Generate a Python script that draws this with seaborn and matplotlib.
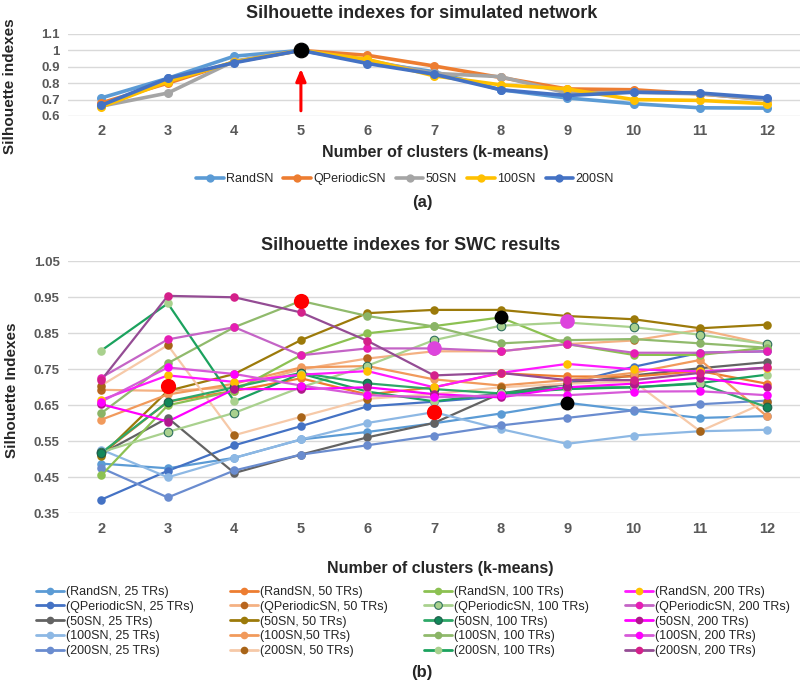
import matplotlib
matplotlib.use('Agg')
import matplotlib.pyplot as plt
from matplotlib import font_manager
from matplotlib.lines import Line2D
import numpy as np
import pandas as pd
import seaborn as sns

sns.set_theme(style='white')
_names = {f.name for f in font_manager.fontManager.ttflist}
NARROW = 'Liberation Sans Narrow' if 'Liberation Sans Narrow' in _names else 'Liberation Sans'
plt.rcParams['font.family'] = ['Liberation Sans', 'DejaVu Sans']

clusters = [2, 3, 4, 5, 6, 7, 8, 9, 10, 11, 12]

# ---------------- (a) simulated network ----------------
sim_names = ['RandSN', 'QPeriodicSN', '50SN', '100SN', '200SN']
sim_randsn = [0.71, 0.83, 0.965, 1.0, 0.93, 0.87, 0.76, 0.71, 0.675, 0.65, 0.648]
sim_qperiodicsn = [0.68, 0.80, 0.93, 1.0, 0.97, 0.905, 0.835, 0.765, 0.76, 0.735, 0.70]
sim_50sn = [0.66, 0.74, 0.935, 1.0, 0.94, 0.86, 0.84, 0.74, 0.745, 0.735, 0.70]
sim_100sn = [0.655, 0.81, 0.93, 1.0, 0.945, 0.845, 0.79, 0.765, 0.70, 0.695, 0.675]
sim_200sn = [0.665, 0.83, 0.925, 1.0, 0.92, 0.855, 0.76, 0.725, 0.745, 0.74, 0.71]
sim_best_k = [5]
sim_best_val = [1.0]

# ---------------- (b) SWC results ----------------
swc_labels = [
    '(RandSN, 25 TRs)', '(QPeriodicSN, 25 TRs)', '(50SN, 25 TRs)', '(100SN, 25 TRs)', '(200SN, 25 TRs)',
    '(RandSN, 50 TRs)', '(QPeriodicSN, 50 TRs)', '(50SN, 50 TRs)', '(100SN,50 TRs)', '(200SN, 50 TRs)',
    '(RandSN, 100 TRs)', '(QPeriodicSN, 100 TRs)', '(50SN, 100 TRs)', '(100SN, 100 TRs)', '(200SN, 100 TRs)',
    '(RandSN, 200 TRs)', '(QPeriodicSN, 200 TRs)', '(50SN, 200 TRs)', '(100SN, 200 TRs)', '(200SN, 200 TRs)',
]
randsn_25 = [0.488, 0.475, 0.504, 0.555, 0.576, 0.600, 0.627, 0.657, 0.635, 0.615, 0.620]
qperiodicsn_25 = [0.388, 0.468, 0.539, 0.592, 0.647, 0.660, 0.675, 0.710, 0.757, 0.796, 0.800]
sn50_25 = [0.515, 0.615, 0.462, 0.513, 0.561, 0.601, 0.683, 0.710, 0.733, 0.753, 0.770]
sn100_25 = [0.527, 0.450, 0.504, 0.555, 0.601, 0.631, 0.584, 0.543, 0.566, 0.578, 0.582]
sn200_25 = [0.476, 0.394, 0.469, 0.513, 0.539, 0.566, 0.594, 0.615, 0.636, 0.653, 0.663]

randsn_50 = [0.515, 0.660, 0.690, 0.725, 0.680, 0.700, 0.739, 0.730, 0.730, 0.745, 0.710]
qperiodicsn_50 = [0.693, 0.690, 0.700, 0.750, 0.780, 0.800, 0.800, 0.820, 0.830, 0.860, 0.820]
sn50_50 = [0.510, 0.690, 0.737, 0.831, 0.906, 0.915, 0.915, 0.898, 0.889, 0.864, 0.874]
sn100_50 = [0.610, 0.680, 0.710, 0.755, 0.759, 0.722, 0.705, 0.720, 0.740, 0.776, 0.620]
sn200_50 = [0.705, 0.817, 0.567, 0.618, 0.668, 0.681, 0.700, 0.710, 0.716, 0.578, 0.660]

randsn_100 = [0.455, 0.650, 0.690, 0.789, 0.850, 0.870, 0.894, 0.820, 0.790, 0.790, 0.810]
qperiodicsn_100 = [0.520, 0.576, 0.629, 0.700, 0.760, 0.831, 0.871, 0.880, 0.867, 0.846, 0.820]
sn50_100 = [0.518, 0.660, 0.700, 0.740, 0.711, 0.695, 0.683, 0.700, 0.700, 0.710, 0.645]
sn100_100 = [0.628, 0.767, 0.867, 0.940, 0.898, 0.869, 0.822, 0.831, 0.834, 0.822, 0.810]
sn200_100 = [0.802, 0.933, 0.661, 0.738, 0.688, 0.661, 0.683, 0.695, 0.700, 0.712, 0.735]

randsn_200 = [0.665, 0.733, 0.715, 0.735, 0.745, 0.700, 0.740, 0.765, 0.750, 0.744, 0.754]
qperiodicsn_200 = [0.727, 0.833, 0.867, 0.789, 0.808, 0.808, 0.800, 0.820, 0.796, 0.796, 0.800]
sn50_200 = [0.653, 0.605, 0.695, 0.695, 0.700, 0.681, 0.672, 0.700, 0.710, 0.727, 0.700]
sn100_200 = [0.660, 0.755, 0.737, 0.705, 0.678, 0.672, 0.678, 0.678, 0.688, 0.689, 0.678]
sn200_200 = [0.720, 0.954, 0.950, 0.908, 0.829, 0.733, 0.740, 0.720, 0.720, 0.740, 0.755]

swc_series = [randsn_25, qperiodicsn_25, sn50_25, sn100_25, sn200_25,
              randsn_50, qperiodicsn_50, sn50_50, sn100_50, sn200_50,
              randsn_100, qperiodicsn_100, sn50_100, sn100_100, sn200_100,
              randsn_200, qperiodicsn_200, sn50_200, sn100_200, sn200_200]

# highlighted points
red_k = [3, 5, 7]
red_val = [0.705, 0.940, 0.631]
black_k = [8, 9]
black_val = [0.896, 0.657]
orchid_k = [7, 9]
orchid_val = [0.808, 0.884]

# ---------------- styles ----------------
sim_colors = ['#5B9BD5', '#ED7D31', '#A5A5A5', '#FFC000', '#4472C4']
line_colors = ['#5B9BD5', '#4472C4', '#636363', '#8DB8E4', '#6A8CCF',
               '#ED7D31', '#F4B183', '#9C7A0A', '#F19A5C', '#F6C9A8',
               '#8CC152', '#A9D18E', '#2EA868', '#90BA6C', '#1BA25E',
               '#FF1AFF', '#C464C6', '#FF00FF', '#D65AD8', '#944C94']
marker_colors = ['#5B9BD5', '#4472C4', '#636363', '#8DB8E4', '#6A8CCF',
                 '#ED7D31', '#B8651E', '#9C7A0A', '#F19A5C', '#A86418',
                 '#8CC152', '#A9D18E', '#12875A', '#8AB466', '#A9D18E',
                 '#FFC000', '#E61EB4', '#B0188C', '#FF00FF', '#D4208A']
marker_edges = [None] * 20
marker_edges[11] = '#2E6F5E'
marker_edges[12] = '#1F5E4A'

W, H = 800, 688
fig = plt.figure(figsize=(W / 100, H / 100), dpi=100)

def fx(px):
    return px / W

def fy(py):
    return 1 - py / H

ax_left, ax_right = 68, 800
tick_color = '#595959'

def style_axes(ax, yticks, ylabels, ylim):
    ax.set_xlim(1.5, 12.5)
    ax.set_ylim(*ylim)
    ax.set_xticks(clusters)
    ax.set_xticklabels([str(c) for c in clusters])
    ax.set_yticks(yticks)
    ax.set_yticklabels(ylabels)
    for s in ax.spines.values():
        s.set_visible(False)
    ax.grid(axis='y', color='#D9D9D9', lw=1.0)
    ax.grid(axis='x', visible=False)
    ax.set_axisbelow(True)
    ax.tick_params(length=0, colors=tick_color, pad=6)
    for t in ax.get_xticklabels() + ax.get_yticklabels():
        t.set_fontweight('bold')
        t.set_fontsize(9.5)
        t.set_color(tick_color)
    ax.set_xlabel('')
    ax.set_ylabel('')
    if ax.get_legend() is not None:
        ax.get_legend().remove()

# ---- top axes ----
axA = fig.add_axes([fx(ax_left), fy(116), fx(ax_right - ax_left), fy(34) - fy(116)])
sim_df = pd.DataFrame({
    'k': clusters * 5,
    'value': sim_randsn + sim_qperiodicsn + sim_50sn + sim_100sn + sim_200sn,
    'series': sum([[n] * len(clusters) for n in sim_names], []),
})
sns.lineplot(data=sim_df, x='k', y='value', hue='series', palette=sim_colors,
             hue_order=sim_names, marker='o', markersize=6.5, markeredgewidth=0,
             linewidth=2.6, sort=False, ax=axA, legend=False)
sns.scatterplot(x=sim_best_k, y=sim_best_val, color='black', s=110, zorder=10, ax=axA, edgecolor='black')
axA.annotate('', xy=(5, 0.905), xytext=(5, 0.615),
             arrowprops=dict(arrowstyle='-|>,head_length=0.6,head_width=0.25', color='#FF0000', lw=2.2))
style_axes(axA, [0.6, 0.7, 0.8, 0.9, 1.0, 1.1], ['0.6', '0.7', '0.8', '0.9', '1', '1.1'], (0.6, 1.1))
for t in axA.get_xticklabels():
    t.set_fontsize(10.5)

fig.text(fx(422), fy(13), 'Silhouette indexes for simulated network', ha='center', va='center',
         fontsize=13, fontweight='bold', family=NARROW)
fig.text(fx(10), fy(86), 'Silhouette indexes', rotation=90, ha='center', va='center',
         fontsize=11, fontweight='bold', color='#262626')
fig.text(fx(435), fy(152), 'Number of clusters (k-means)', ha='center', va='center',
         fontsize=11.5, fontweight='bold', family=NARROW)
simh = [Line2D([0], [0], color=c, lw=2.6, marker='o', markersize=6, markeredgewidth=0) for c in sim_colors]
fig.legend(simh, sim_names, loc='center', bbox_to_anchor=(fx(405), fy(179)), ncol=5, frameon=False,
           prop={'family': NARROW, 'size': 9}, handlelength=2.2, handletextpad=0.2, columnspacing=0.8)
fig.text(fx(422), fy(202), '(a)', ha='center', va='center', fontsize=12, fontweight='bold')

# ---- bottom axes ----
axB = fig.add_axes([fx(ax_left), fy(513.3), fx(ax_right - ax_left), fy(261.3) - fy(513.3)])
swc_df = pd.DataFrame({
    'k': clusters * len(swc_series),
    'value': sum(swc_series, []),
    'series': sum([[lab] * len(clusters) for lab in swc_labels], []),
})
sns.lineplot(data=swc_df, x='k', y='value', hue='series', hue_order=swc_labels,
             palette=line_colors, linewidth=1.6, sort=False, ax=axB, legend=False)
for i, lab in enumerate(swc_labels):
    sub = swc_df[swc_df['series'] == lab]
    ec = marker_edges[i] if marker_edges[i] else marker_colors[i]
    sns.scatterplot(data=sub, x='k', y='value', color=marker_colors[i], s=38,
                    edgecolor=ec, linewidth=0.8 if marker_edges[i] else 0, zorder=3 + i * 0.01,
                    ax=axB, legend=False)
sns.scatterplot(x=red_k, y=red_val, color='#FF0000', s=120, linewidth=0, zorder=6, ax=axB)
sns.scatterplot(x=black_k, y=black_val, color='black', s=100, linewidth=0, zorder=6, ax=axB)
sns.scatterplot(x=orchid_k, y=orchid_val, color='#DD44DD', s=110, linewidth=0, zorder=6, ax=axB)
style_axes(axB, [0.35, 0.45, 0.55, 0.65, 0.75, 0.85, 0.95, 1.05],
           ['0.35', '0.45', '0.55', '0.65', '0.75', '0.85', '0.95', '1.05'], (0.35, 1.05))
for t in axB.get_xticklabels():
    t.set_fontsize(10.5)

fig.text(fx(411), fy(245), 'Silhouette indexes for SWC results', ha='center', va='center',
         fontsize=13, fontweight='bold')
fig.text(fx(12), fy(390), 'Silhouette Indexes', rotation=90, ha='center', va='center',
         fontsize=11, fontweight='bold', color='#262626')
fig.text(fx(440), fy(568), 'Number of clusters (k-means)', ha='center', va='center',
         fontsize=11.5, fontweight='bold', family=NARROW)

handles = []
for i in range(20):
    ec = marker_edges[i] if marker_edges[i] else marker_colors[i]
    handles.append(Line2D([0], [0], color=line_colors[i], lw=2.0, marker='o', markersize=5.5,
                          markerfacecolor=marker_colors[i], markeredgecolor=ec,
                          markeredgewidth=0.8 if marker_edges[i] else 0))
fig.legend(handles, swc_labels, loc='upper left', bbox_to_anchor=(fx(36), fy(586)), ncol=4,
           frameon=False, prop={'family': NARROW, 'size': 9}, handlelength=2.2,
           handletextpad=0.2, columnspacing=2.9, labelspacing=0.22, borderpad=0, borderaxespad=0)
fig.text(fx(422), fy(672), '(b)', ha='center', va='center', fontsize=12, fontweight='bold')

fig.savefig('out.png', dpi=100)
